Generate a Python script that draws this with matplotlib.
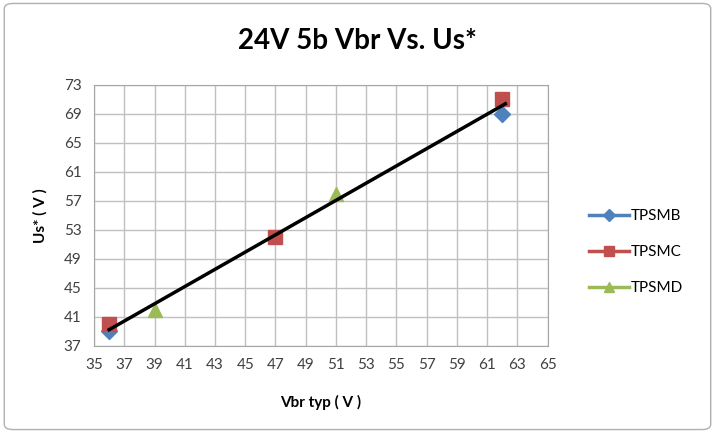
import numpy as np
import matplotlib
matplotlib.use('Agg')
import matplotlib.pyplot as plt
from matplotlib.patches import FancyBboxPatch

plt.rcParams['font.family'] = ['Lato', 'DejaVu Sans']

# data
tpsmb_x = [36, 62]
tpsmb_y = [39, 69]
tpsmc_x = [36, 47, 62]
tpsmc_y = [40, 52, 71]
tpsmd_x = [39, 51]
tpsmd_y = [42, 58]

x_ticks = list(range(35, 66, 2))
y_ticks = list(range(37, 74, 4))

fig = plt.figure(figsize=(7.15, 4.33), dpi=100)
ax = fig.add_axes([0.1315, 0.201, 0.6345, 0.603])

# outer frame
frame = FancyBboxPatch((0.006, 0.008), 0.988, 0.984, boxstyle='round,pad=0,rounding_size=0.012',
                       transform=fig.transFigure, facecolor='none', edgecolor='#b0b0b0', linewidth=1.0)
fig.patches.append(frame)

ax.plot(tpsmb_x, tpsmb_y, linestyle='none', marker='D', markersize=8, color='#4f81bd', label='TPSMB', zorder=3)
ax.plot(tpsmc_x, tpsmc_y, linestyle='none', marker='s', markersize=10, color='#c0504d', label='TPSMC', zorder=3)
ax.plot(tpsmd_x, tpsmd_y, linestyle='none', marker='^', markersize=10, color='#9bbb59', label='TPSMD', zorder=3)

# linear trendline over all points
all_x = np.array(tpsmb_x + tpsmc_x + tpsmd_x)
all_y = np.array(tpsmb_y + tpsmc_y + tpsmd_y)
k, b = np.polyfit(all_x, all_y, 1)
xs = np.array([all_x.min(), all_x.max() + 0.2])
ax.plot(xs, k * xs + b, color='black', linewidth=2.5, zorder=4)

ax.set_xlim(35, 65)
ax.set_ylim(37, 73)
ax.set_xticks(x_ticks)
ax.set_yticks(y_ticks)
ax.grid(True, color='#c0c0c0', linewidth=1)
ax.set_axisbelow(True)
for s in ax.spines.values():
    s.set_color('#a6a6a6')
ax.tick_params(length=0, labelsize=11, colors='#404040', pad=9)

ax.set_xlabel('Vbr typ ( V )', fontsize=11, fontweight='bold', labelpad=16)
ax.set_ylabel('Us* ( V )', fontsize=11, fontweight='bold', labelpad=12)
fig.text(0.5, 0.905, '24V 5b Vbr Vs. Us*', ha='center', va='center', fontsize=20, fontweight='bold')

leg = fig.legend(loc='center left', bbox_to_anchor=(0.805, 0.418), frameon=False, fontsize=11,
                 handlelength=2.6, labelspacing=1.45, handletextpad=0.1)
for h, c, ms in zip(leg.legend_handles, ['#4f81bd', '#c0504d', '#9bbb59'], [6, 7.5, 7.5]):
    h.set_linestyle('-')
    h.set_linewidth(2.5)
    h.set_color(c)
    h.set_markersize(ms)

fig.savefig('out.png', dpi=100)
